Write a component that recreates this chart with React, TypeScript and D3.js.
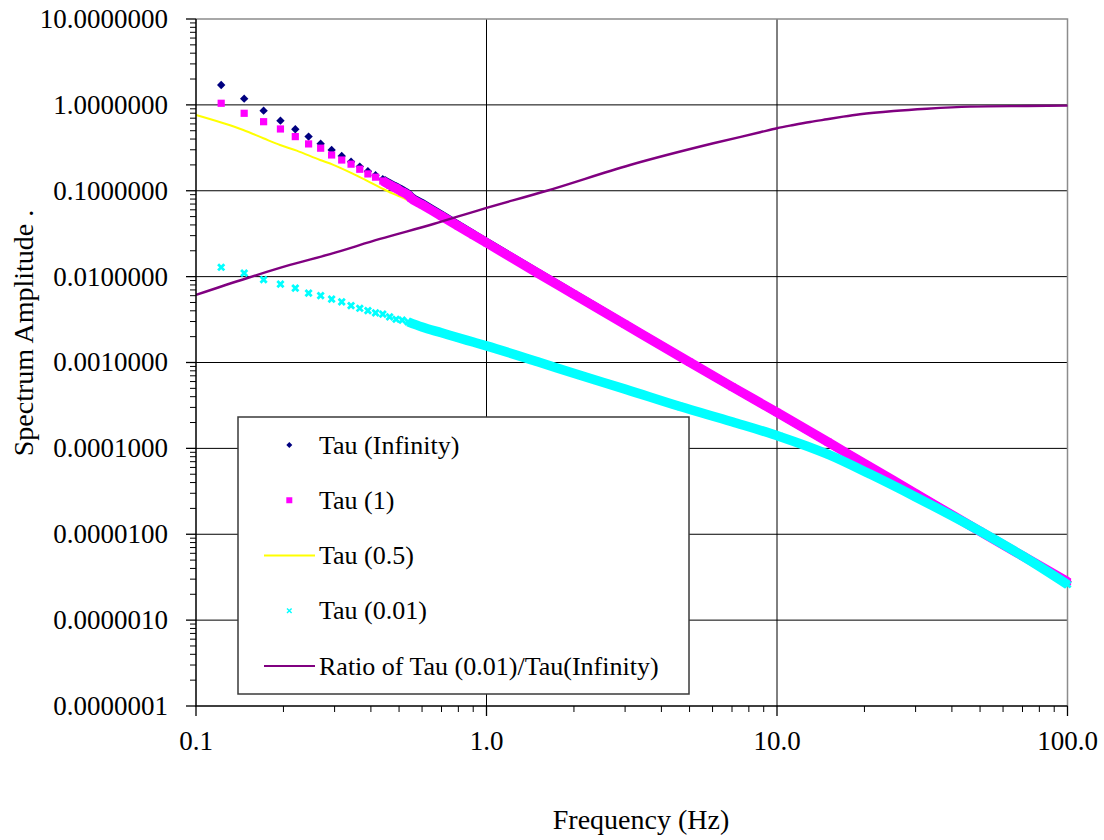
import React, { useRef, useEffect } from 'react'
import * as d3 from 'd3'

//=====================//
//== Data (read off) ==//
//=====================//

// low end: markers still sit apart, one per frequency bin
const lowFreq = [0.1221, 0.1465, 0.1709, 0.1953, 0.2197, 0.2441, 0.2686, 0.2930, 0.3174,
  0.3418, 0.3662, 0.3906, 0.4150, 0.4395, 0.4639, 0.4883, 0.5127, 0.5371]
const tauInfLow = [1.705, 1.181, 0.856, 0.655, 0.520, 0.427, 0.353, 0.299, 0.254,
  0.218, 0.191, 0.169, 0.152, 0.136, 0.122, 0.112, 0.102, 0.093]
const tau1Low = [1.044, 0.798, 0.637, 0.524, 0.427, 0.351, 0.313, 0.261, 0.228,
  0.204, 0.178, 0.157, 0.144, 0.130, 0.117, 0.107, 0.097, 0.089]
const tau001Low = [0.01285, 0.01096, 0.00923, 0.00816, 0.00733, 0.00641, 0.00601, 0.00546, 0.00508,
  0.00460, 0.00428, 0.00402, 0.00378, 0.00365, 0.00340, 0.00319, 0.00311, 0.00297]

// higher up the markers pile into a solid band, read at these frequencies
const bandFreq = [0.55, 0.6, 0.7, 0.8, 0.9, 1.0, 1.5, 2, 3, 5, 7, 10, 15, 20, 30, 50, 70, 100]
const tauInfBand = [0.086, 0.072, 0.0525, 0.0400, 0.0314, 0.0253, 0.0112, 0.00630, 0.00280,
  0.00101, 0.000523, 0.000262, 0.000118, 0.0000665, 0.0000298, 0.0000108, 0.0000056, 0.0000028]
const tau1Band = [0.082, 0.0690, 0.0506, 0.0388, 0.0306, 0.0248, 0.0110, 0.00622, 0.00278,
  0.00101, 0.000522, 0.000262, 0.000118, 0.0000665, 0.0000298, 0.0000108, 0.0000056, 0.0000028]
const cyanBandFreq = [0.6, 0.7, 0.8, 0.9, 1.0, 1.5, 2.1, 3, 4.64, 7, 10.26, 15, 20.9, 30, 46.2, 70, 100]
const tau001Band = [0.00259, 0.00222, 0.00194, 0.00173, 0.00156, 0.00102, 0.000710, 0.000490, 0.000307,
  0.000204, 0.000137, 0.0000851, 0.0000502, 0.0000272, 0.0000126, 0.0000056, 0.0000026]

// Tau (0.5) drawn as a line
const tau05Freq = [0.1, 0.1455, 0.1705, 0.1947, 0.2222, 0.2673, 0.2971, 0.339, 0.387, 0.4535,
  0.504, 0.6, 0.7, 0.8, 1.0, 2, 5, 10, 20, 50, 100]
const tau05 = [0.763, 0.510, 0.409, 0.341, 0.293, 0.228, 0.200, 0.164, 0.131, 0.100,
  0.0853, 0.0655, 0.050, 0.0385, 0.0246, 0.0062, 0.00101, 0.000262, 0.0000665, 0.0000108, 0.0000028]

// Ratio of Tau (0.01)/Tau(Infinity)
const ratioFreq = [0.1, 0.1495, 0.2107, 0.2893, 0.430, 0.6565, 0.95, 1.613, 3.12, 6.04,
  8.75, 10.0, 11.4, 13.0, 14.86, 16.9, 19.3, 25.2, 32.8, 46.2, 72.6, 100]
const ratio = [0.00612, 0.00957, 0.01367, 0.0183, 0.0275, 0.041, 0.060, 0.100, 0.1995, 0.357,
  0.48, 0.535, 0.583, 0.632, 0.680, 0.729, 0.777, 0.849, 0.903, 0.953, 0.97, 0.979]

const xTicks = [0.1, 1, 10, 100]
const yTicks = [1e-7, 1e-6, 1e-5, 1e-4, 1e-3, 1e-2, 1e-1, 1, 10]
const legendLabels = ['Tau (Infinity)', 'Tau (1)', 'Tau (0.5)', 'Tau (0.01)', 'Ratio of Tau (0.01)/Tau(Infinity)']

const FONT = 'Liberation Serif, DejaVu Serif, serif'

export default function App() {
  const svgRef = useRef(null)

  const W = 1104, H = 840
  const left = 196, right = 1067.5, top = 19, bottom = 706

  useEffect(() => {
    const svg = d3.select(svgRef.current)
    svg.selectAll('*').remove()

    const x = d3.scaleLog().domain([0.1, 100]).range([left, right])
    const y = d3.scaleLog().domain([1e-7, 10]).range([bottom, top])

    const zip = (fs, vs) => fs.map((f, i) => [f, vs[i]])
    const line = d3.line().x(d => x(d[0])).y(d => y(d[1])).curve(d3.curveMonotoneX)

    // ----- grid -----
    const grid = svg.append('g')
    grid.selectAll('line.h')
      .data(yTicks.slice(1, -1))
      .join('line')
        .attr('x1', left).attr('x2', right)
        .attr('y1', d => y(d)).attr('y2', d => y(d))
        .attr('stroke', '#000').attr('stroke-width', 1)
    grid.selectAll('line.v')
      .data(xTicks.slice(1, -1))
      .join('line')
        .attr('x1', d => x(d)).attr('x2', d => x(d))
        .attr('y1', top).attr('y2', bottom)
        .attr('stroke', '#000').attr('stroke-width', 1)
    // top / right frame in gray
    grid.append('path')
      .attr('d', `M${left},${top}H${right}V${bottom}`)
      .attr('fill', 'none').attr('stroke', '#8c8c8c').attr('stroke-width', 1.5)

    // ----- series -----
    const series = svg.append('g')

    // Tau (0.5) line (sits under the marker bands)
    series.append('path')
      .attr('d', line(zip(tau05Freq, tau05)))
      .attr('fill', 'none').attr('stroke', '#ffff00').attr('stroke-width', 2)

    const diamond = 'M0,-4.2L4.2,0L0,4.2L-4.2,0Z'
    const square = 'M-3.6,-3.6H3.6V3.6H-3.6Z'
    const cross = 'M-3.1,-3.1L3.1,3.1M-3.1,3.1L3.1,-3.1'

    // Tau (Infinity)
    series.append('path')
      .attr('d', line([...zip(lowFreq, tauInfLow).slice(13), ...zip(bandFreq, tauInfBand)]))
      .attr('fill', 'none').attr('stroke', '#000080').attr('stroke-width', 8)
    series.append('g').selectAll('path')
      .data([...zip(lowFreq, tauInfLow), ...zip(bandFreq, tauInfBand)])
      .join('path')
        .attr('transform', d => `translate(${x(d[0])},${y(d[1])})`)
        .attr('d', diamond).attr('fill', '#000080')

    // Tau (1)
    series.append('path')
      .attr('d', line([...zip(lowFreq, tau1Low).slice(13), ...zip(bandFreq, tau1Band)]))
      .attr('fill', 'none').attr('stroke', '#ff00ff').attr('stroke-width', 9.5)
    series.append('g').selectAll('path')
      .data([...zip(lowFreq, tau1Low), ...zip(bandFreq, tau1Band)])
      .join('path')
        .attr('transform', d => `translate(${x(d[0])},${y(d[1])})`)
        .attr('d', square).attr('fill', '#ff00ff')

    // Tau (0.01)
    series.append('path')
      .attr('d', line([...zip(lowFreq, tau001Low).slice(17), ...zip(cyanBandFreq, tau001Band)]))
      .attr('fill', 'none').attr('stroke', '#00ffff').attr('stroke-width', 9.5)
    series.append('g').selectAll('path')
      .data([...zip(lowFreq, tau001Low), ...zip(cyanBandFreq, tau001Band)])
      .join('path')
        .attr('transform', d => `translate(${x(d[0])},${y(d[1])})`)
        .attr('d', cross).attr('fill', 'none')
        .attr('stroke', '#00ffff').attr('stroke-width', 2.8)

    // ratio line on top
    series.append('path')
      .attr('d', line(zip(ratioFreq, ratio)))
      .attr('fill', 'none').attr('stroke', '#800080').attr('stroke-width', 2.4)

    // ----- axes -----
    const axes = svg.append('g')
      .attr('font-family', FONT)
      .attr('fill', '#000')
    axes.append('path')
      .attr('d', `M${left},${top}V${bottom}H${right}`)
      .attr('fill', 'none').attr('stroke', '#000').attr('stroke-width', 1.5)

    const yMinor = []
    const xMinor = []
    yTicks.slice(0, -1).forEach(t => { for (let m = 2; m <= 9; m++) yMinor.push(t * m) })
    xTicks.slice(0, -1).forEach(t => { for (let m = 2; m <= 9; m++) xMinor.push(t * m) })

    axes.selectAll('line.ym')
      .data(yMinor).join('line')
        .attr('x1', left - 6).attr('x2', left)
        .attr('y1', d => y(d)).attr('y2', d => y(d))
        .attr('stroke', '#000').attr('stroke-width', 1)
    axes.selectAll('line.yM')
      .data(yTicks).join('line')
        .attr('x1', left - 10).attr('x2', left)
        .attr('y1', d => y(d)).attr('y2', d => y(d))
        .attr('stroke', '#000').attr('stroke-width', 1.3)
    axes.selectAll('line.xm')
      .data(xMinor).join('line')
        .attr('x1', d => x(d)).attr('x2', d => x(d))
        .attr('y1', bottom).attr('y2', bottom + 6)
        .attr('stroke', '#000').attr('stroke-width', 1)
    axes.selectAll('line.xM')
      .data(xTicks).join('line')
        .attr('x1', d => x(d)).attr('x2', d => x(d))
        .attr('y1', bottom).attr('y2', bottom + 10)
        .attr('stroke', '#000').attr('stroke-width', 1.3)

    const fy = d3.format('.7f')
    const fx = d3.format('.1f')
    axes.selectAll('text.yl')
      .data(yTicks).join('text')
        .attr('x', 168).attr('y', d => y(d)).attr('dy', '0.33em')
        .attr('text-anchor', 'end')
        .attr('font-size', 27)
        .text(d => fy(d))
    axes.selectAll('text.xl')
      .data(xTicks).join('text')
        .attr('x', d => x(d)).attr('y', 750)
        .attr('text-anchor', 'middle')
        .attr('font-size', 27)
        .text(d => fx(d))

    axes.append('text')
      .attr('x', 641).attr('y', 829)
      .attr('text-anchor', 'middle')
      .attr('font-size', 28)
      .text('Frequency (Hz)')
    axes.append('text')
      .attr('transform', 'translate(33,333) rotate(-90)')
      .attr('text-anchor', 'middle')
      .attr('font-size', 28)
      .text('Spectrum Amplitude .')

    // ----- legend -----
    const lg = svg.append('g').attr('font-family', FONT)
    lg.append('rect')
      .attr('x', 238).attr('y', 417).attr('width', 451).attr('height', 277)
      .attr('fill', '#fff').attr('stroke', '#3a3a3a').attr('stroke-width', 1.5)

    const rowY = d3.scalePoint().domain(legendLabels).range([445, 666])
    const rows = lg.selectAll('g.row')
      .data(legendLabels).join('g')
        .attr('transform', d => `translate(0,${rowY(d)})`)
    rows.append('text')
      .attr('x', 319).attr('y', 8.6)
      .attr('font-size', 26)
      .text(d => d)

    const mk = 289.3
    lg.append('path').attr('transform', `translate(${mk},${rowY(legendLabels[0])})`)
      .attr('d', 'M0,-3L3,0L0,3L-3,0Z').attr('fill', '#000080')
    lg.append('path').attr('transform', `translate(${mk},${rowY(legendLabels[1])})`)
      .attr('d', 'M-3,-3H3V3H-3Z').attr('fill', '#ff00ff')
    lg.append('line')
      .attr('x1', 264).attr('x2', 315)
      .attr('y1', rowY(legendLabels[2])).attr('y2', rowY(legendLabels[2]))
      .attr('stroke', '#ffff00').attr('stroke-width', 2)
    lg.append('path').attr('transform', `translate(${mk},${rowY(legendLabels[3])})`)
      .attr('d', 'M-2.3,-2.3L2.3,2.3M-2.3,2.3L2.3,-2.3')
      .attr('fill', 'none').attr('stroke', '#00ffff').attr('stroke-width', 1.4)
    lg.append('line')
      .attr('x1', 264).attr('x2', 315)
      .attr('y1', rowY(legendLabels[4])).attr('y2', rowY(legendLabels[4]))
      .attr('stroke', '#800080').attr('stroke-width', 2)
  }, [])

  return (
    <svg
      ref={svgRef}
      width={W}
      height={H}
      viewBox={`0 0 ${W} ${H}`}
      style={{ position: 'absolute', left: 0, top: 0, background: '#fff' }}
    />
  )
}
